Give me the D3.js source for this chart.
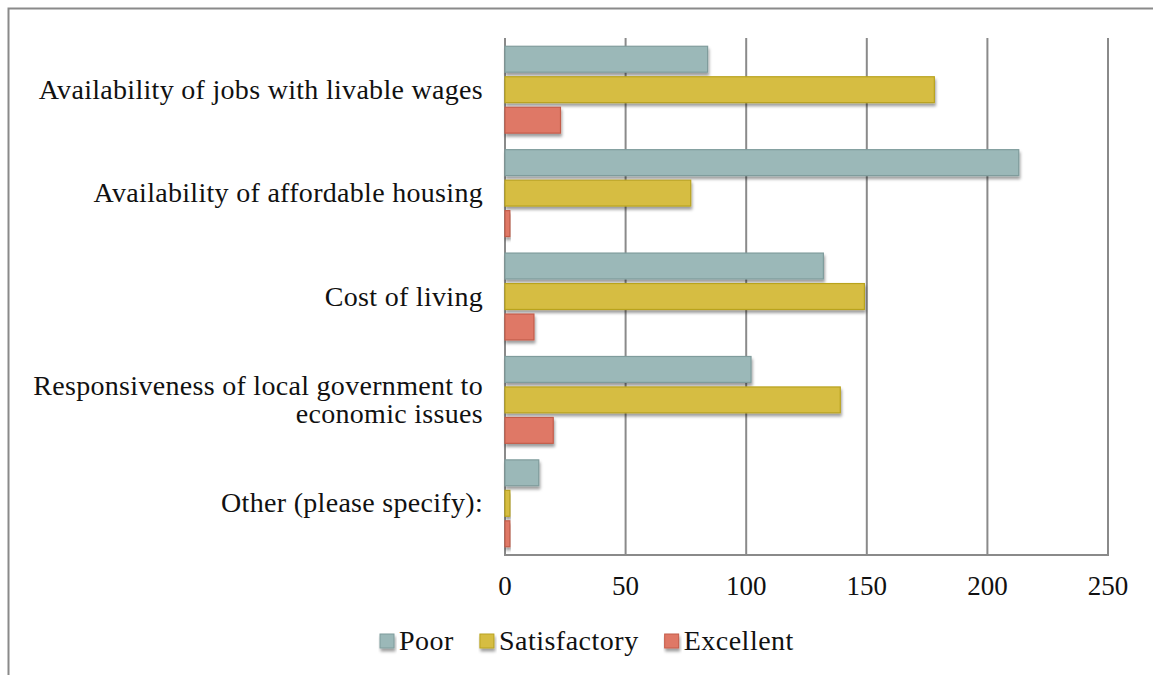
<!DOCTYPE html>
<html>
<head>
<meta charset="utf-8">
<script src="https://cdn.jsdelivr.net/npm/d3@7"></script>
<style>
  body { margin: 0; background: #fff; }
  svg { display: block; }
  text { font-family: "Liberation Serif", "Times New Roman", serif; fill: #111; }
</style>
</head>
<body>
<script>
// survey counts
const categories = [
  ["Availability of jobs with livable wages"],
  ["Availability of affordable housing"],
  ["Cost of living"],
  ["Responsiveness of local government to", "economic issues"],
  ["Other (please specify):"]
];
const seriesNames = ["Poor", "Satisfactory", "Excellent"];
const poor = [84, 213, 132, 102, 14];
const satisfactory = [178, 77, 149, 139, 2];
const excellent = [23, 2, 12, 20, 2];
const ticks = [0, 50, 100, 150, 200, 250];

const fills = {Poor: "#9bb8b8", Satisfactory: "#d6bd42", Excellent: "#df7866"};
const strokes = {Poor: "#7f9c9c", Satisfactory: "#b9a31f", Excellent: "#c45c4a"};

const width = 1153, height = 675;
const svg = d3.select("body").append("svg")
    .attr("width", width)
    .attr("height", height);

const defs = svg.append("defs");
defs.append("filter")
    .attr("id", "shadow")
    .attr("x", "-10%").attr("y", "-30%")
    .attr("width", "130%").attr("height", "180%")
  .append("feDropShadow")
    .attr("dx", 1).attr("dy", 3)
    .attr("stdDeviation", 1.8)
    .attr("flood-color", "#000")
    .attr("flood-opacity", 0.38);

// outer frame (runs off the right and bottom of the picture)
svg.append("rect")
    .attr("x", 8.5).attr("y", 8.5)
    .attr("width", 1200).attr("height", 720)
    .attr("fill", "none")
    .attr("stroke", "#8a8a8a")
    .attr("stroke-width", 2);

const x = d3.scaleLinear().domain([0, 250]).range([505, 1108]);
const keys = categories.map((c, i) => i);
const y0 = d3.scaleBand().domain(keys).range([38, 555])
    .paddingInner(0.16).paddingOuter(0.08);
const y1 = d3.scaleBand().domain(seriesNames).range([0, y0.bandwidth()])
    .paddingInner(0.15);

const rows = keys.map(i => ({
  i: i,
  values: [
    {key: "Poor", value: poor[i]},
    {key: "Satisfactory", value: satisfactory[i]},
    {key: "Excellent", value: excellent[i]}
  ]
}));

// vertical gridlines
svg.append("g")
  .selectAll("line")
  .data(ticks)
  .join("line")
    .attr("x1", d => x(d)).attr("x2", d => x(d))
    .attr("y1", 38).attr("y2", 555)
    .attr("stroke", "#8a8a8a")
    .attr("stroke-width", 2);

// bottom axis line
svg.append("line")
    .attr("x1", x(0) - 1).attr("x2", x(250) + 1)
    .attr("y1", 555).attr("y2", 555)
    .attr("stroke", "#8a8a8a")
    .attr("stroke-width", 2);

// bars
svg.append("g")
  .selectAll("g")
  .data(rows)
  .join("g")
    .attr("transform", d => `translate(0,${y0(d.i)})`)
  .selectAll("rect")
  .data(d => d.values)
  .join("rect")
    .attr("x", x(0))
    .attr("y", d => y1(d.key))
    .attr("width", d => x(d.value) - x(0))
    .attr("height", y1.bandwidth())
    .attr("fill", d => fills[d.key])
    .attr("stroke", d => strokes[d.key])
    .attr("stroke-width", 1.2)
    .attr("filter", "url(#shadow)");

// category labels
const labels = svg.append("g")
    .attr("text-anchor", "end")
    .style("font-size", "28px")
    .style("letter-spacing", "0.3px")
  .selectAll("text")
  .data(rows)
  .join("text")
    .attr("x", 483)
    .attr("y", d => {
      const c = y0(d.i) + y0.bandwidth() / 2;
      const n = categories[d.i].length;
      return c + 9 - (n - 1) * 14;
    });
labels.selectAll("tspan")
  .data(d => categories[d.i].map((t, k) => ({t, k})))
  .join("tspan")
    .attr("x", 483)
    .attr("dy", d => d.k === 0 ? 0 : 28)
    .text(d => d.t);

// tick labels
svg.append("g")
    .attr("text-anchor", "middle")
    .style("font-size", "27px")
  .selectAll("text")
  .data(ticks)
  .join("text")
    .attr("x", d => x(d))
    .attr("y", 595)
    .text(d => d);

// legend
const legend = svg.append("g")
    .style("font-family", "'Liberation Serif', serif")
    .style("font-size", "28px");
let lx = 380;
seriesNames.forEach(name => {
  legend.append("rect")
      .attr("x", lx).attr("y", 634)
      .attr("width", 14).attr("height", 14)
      .attr("fill", fills[name])
      .attr("stroke", strokes[name])
      .attr("stroke-width", 1)
      .attr("filter", "url(#shadow)");
  const t = legend.append("text")
      .attr("x", lx + 19)
      .attr("y", 650)
      .style("letter-spacing", "0.5px")
      .text(name);
  lx += 19 + t.node().getComputedTextLength() + 26;
});
</script>
</body>
</html>
